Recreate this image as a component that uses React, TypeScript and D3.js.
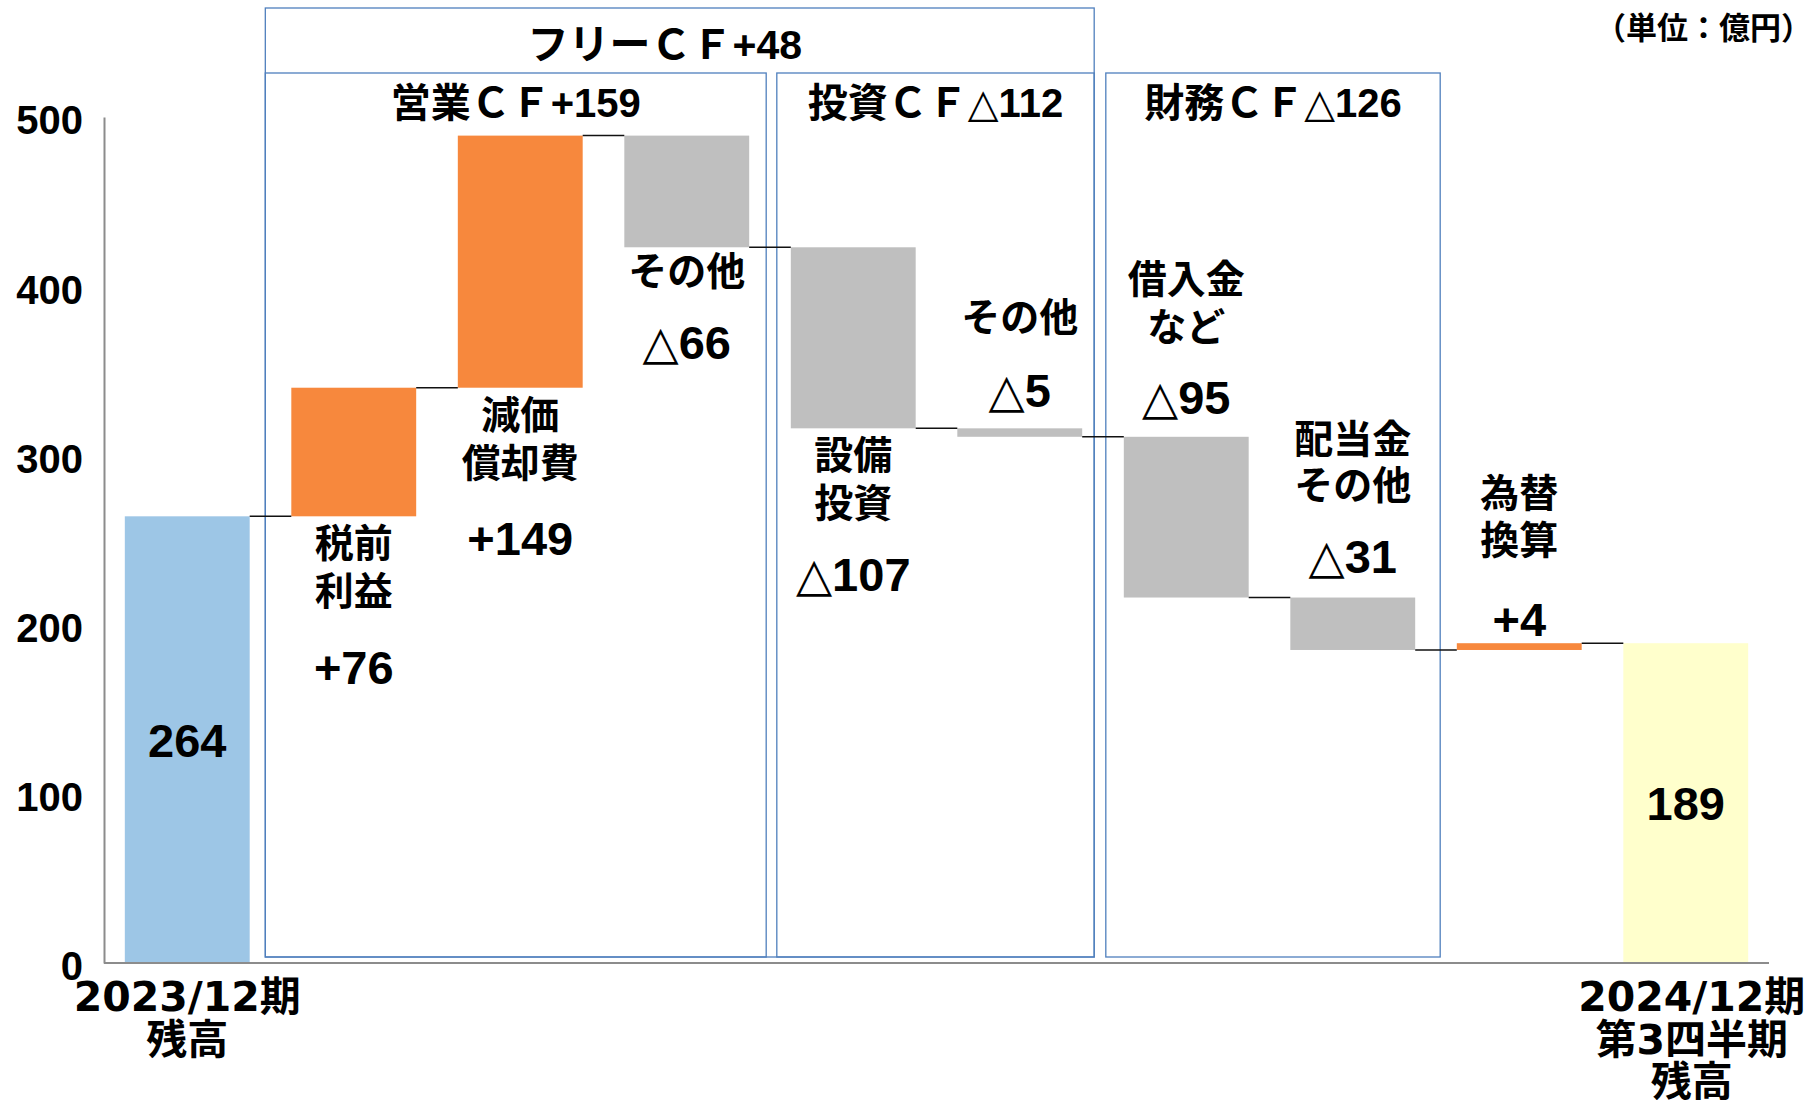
import React, { useEffect, useRef } from 'react'
import * as d3 from 'd3'

// values (億円)
const startBalance = 264
const endBalance = 189
const stepValues = [76, 149, -66, -107, -5, -95, -31, 4]
const categoryLines = [
  ['2023/12期', '残高'],
  ['税前', '利益'],
  ['減価', '償却費'],
  ['その他'],
  ['設備', '投資'],
  ['その他'],
  ['借入金', 'など'],
  ['配当金', 'その他'],
  ['為替', '換算'],
  ['2024/12期', '第3四半期', '残高'],
]
const yTicks = [0, 100, 200, 300, 400, 500]
const groupTitles = ['営業ＣＦ+159', '投資ＣＦ△112', '財務ＣＦ△126']
const groupSpans = [[1, 3], [4, 5], [6, 7]]
const freeCfTitle = 'フリーＣＦ+48'
const freeCfSpan = [1, 5]
const unitLabel = '（単位：億円）'

const LATIN = '"Liberation Sans", Arial, "Noto Sans CJK JP", sans-serif'
const JP = '"Noto Sans CJK JP", sans-serif'
const WIDE = '"DejaVu Sans", "Noto Sans CJK JP", sans-serif'

// where each step label sits relative to its bar (px)
const labelLayout = [
  null,
  { side: 'below', lines: [24, 72], value: 151 },
  { side: 'below', lines: [24, 72], value: 150 },
  { side: 'below', lines: [21], value: 95 },
  { side: 'below', lines: [24, 72], value: 146 },
  { side: 'above', lines: [-114], value: -38 },
  { side: 'above', lines: [-161, -113], value: -40 },
  { side: 'above', lines: [-162, -116], value: -42 },
  { side: 'above', lines: [-153, -106], value: -24 },
  null,
]
const groupPads = [[26, 17], [14, 12], [18, 25]]
const axisLabelShift = [0, 0, 0, 0, 0, 0, 0, 0, 0, 6]

const fmt = (v: number) => (v >= 0 ? '+' + v : '△' + -v)

// writes text, drawing △ thin like the original
function putText(sel: any, str: string, size: number, family: string) {
  const parts = str.split(/(△)/).filter(s => s.length)
  parts.forEach(p => {
    const t = sel.append('tspan').text(p)
    if (p === '△') t.attr('font-family', '"DejaVu Sans", sans-serif').attr('font-weight', 400)
  })
  sel.attr('font-size', size).attr('font-family', family).attr('font-weight', 700)
}

export default function App() {
  const ref = useRef<SVGSVGElement>(null)

  useEffect(() => {
    const svg = d3.select(ref.current)
    svg.selectAll('*').remove()

    const y = d3.scaleLinear().domain([0, 500]).range([963, 117])
    const x = d3.scaleBand<number>()
      .domain(d3.range(categoryLines.length))
      .range([104, 1769])
      .paddingInner(0.25)
      .paddingOuter(0.125)
    const bw = x.bandwidth()

    // running totals
    const bars: { lo: number; hi: number; kind: string; from: number; to: number }[] = []
    bars.push({ lo: 0, hi: startBalance, kind: 'start', from: 0, to: startBalance })
    let level = startBalance
    stepValues.forEach(v => {
      const next = level + v
      bars.push({ lo: Math.min(level, next), hi: Math.max(level, next), kind: v >= 0 ? 'up' : 'down', from: level, to: next })
      level = next
    })
    bars.push({ lo: 0, hi: endBalance, kind: 'end', from: 0, to: endBalance })

    const fill: Record<string, string> = { start: '#9DC6E6', up: '#F7883D', down: '#BFBFBF', end: '#FFFFCC' }

    // boxes
    const boxes = svg.append('g').attr('fill', 'none').attr('stroke', '#4F7FBD').attr('stroke-width', 1.3)
    boxes.append('rect')
      .attr('x', x(freeCfSpan[0])! - groupPads[0][0])
      .attr('y', 8)
      .attr('width', x(freeCfSpan[1])! + bw + groupPads[1][1] - (x(freeCfSpan[0])! - groupPads[0][0]))
      .attr('height', 957 - 8)
    groupSpans.forEach((g, i) => {
      const x0 = x(g[0])! - groupPads[i][0]
      const x1 = x(g[1])! + bw + groupPads[i][1]
      boxes.append('rect').attr('x', x0).attr('y', 73).attr('width', x1 - x0).attr('height', 957 - 73)
      const t = svg.append('text')
        .attr('x', (x0 + x1) / 2).attr('y', 103)
        .attr('text-anchor', 'middle').attr('dominant-baseline', 'central')
      putText(t, groupTitles[i], 40, LATIN)
    })
    {
      const x0 = x(freeCfSpan[0])! - groupPads[0][0]
      const x1 = x(freeCfSpan[1])! + bw + groupPads[1][1]
      const t = svg.append('text')
        .attr('x', (x0 + x1) / 2 - 15).attr('y', 45)
        .attr('text-anchor', 'middle').attr('dominant-baseline', 'central')
      putText(t, freeCfTitle, 41, LATIN)
    }

    // bars
    svg.append('g').selectAll('rect')
      .data(bars)
      .enter()
      .append('rect')
      .attr('x', (d, i) => x(i)!)
      .attr('y', d => y(d.hi))
      .attr('width', bw)
      .attr('height', d => y(d.lo) - y(d.hi))
      .attr('fill', d => fill[d.kind])

    // connectors
    const conn = svg.append('g').attr('stroke', '#111').attr('stroke-width', 1.5)
    for (let i = 0; i < bars.length - 1; i++) {
      const lv = bars[i].to
      conn.append('line')
        .attr('x1', x(i)! + bw).attr('x2', x(i + 1)!)
        .attr('y1', y(lv)).attr('y2', y(lv))
    }

    // axes
    const yAxis = svg.append('g')
      .attr('transform', 'translate(104,0)')
      .call(d3.axisLeft(y).tickValues(yTicks).tickSize(0).tickSizeOuter(0).tickPadding(21))
    yAxis.select('.domain').attr('stroke', '#8C8C8C').attr('stroke-width', 2)
    yAxis.selectAll('text')
      .attr('font-size', 40).attr('font-family', LATIN).attr('font-weight', 700)
      .attr('fill', '#000').attr('dy', '0.42em')
    svg.append('line')
      .attr('x1', 104).attr('x2', 1769).attr('y1', y(0)).attr('y2', y(0))
      .attr('stroke', '#8C8C8C').attr('stroke-width', 2)

    // step labels
    bars.forEach((b, i) => {
      const lay = labelLayout[i]
      const cx = x(i)! + bw / 2
      if (!lay) {
        const t = svg.append('text')
          .attr('x', cx).attr('y', (y(b.lo) + y(b.hi)) / 2)
          .attr('text-anchor', 'middle').attr('dominant-baseline', 'central')
        putText(t, String(b.hi), 47, LATIN)
        return
      }
      const anchor = lay.side === 'below' ? y(b.lo) : y(b.hi)
      categoryLines[i].forEach((line, j) => {
        const t = svg.append('text')
          .attr('x', cx).attr('y', anchor + lay.lines[j])
          .attr('text-anchor', 'middle').attr('dominant-baseline', 'central')
        putText(t, line, 39, JP)
      })
      const t = svg.append('text')
        .attr('x', cx).attr('y', anchor + lay.value)
        .attr('text-anchor', 'middle').attr('dominant-baseline', 'central')
      putText(t, fmt(stepValues[i - 1]), 47, LATIN)
    })

    // category labels under the axis
    ;[0, categoryLines.length - 1].forEach(i => {
      categoryLines[i].forEach((line, j) => {
        const t = svg.append('text')
          .attr('x', x(i)! + bw / 2 + axisLabelShift[i]).attr('y', 997 + j * 42.5)
          .attr('text-anchor', 'middle').attr('dominant-baseline', 'central')
        putText(t, line, 41, WIDE)
      })
    })

    // unit
    const u = svg.append('text')
      .attr('x', 1812).attr('y', 25)
      .attr('text-anchor', 'end').attr('dominant-baseline', 'central')
    putText(u, unitLabel, 31, JP)
  }, [])

  return (
    <svg
      ref={ref}
      width={1814}
      height={1100}
      style={{ position: 'absolute', left: 0, top: 0, background: '#fff' }}
    />
  )
}
